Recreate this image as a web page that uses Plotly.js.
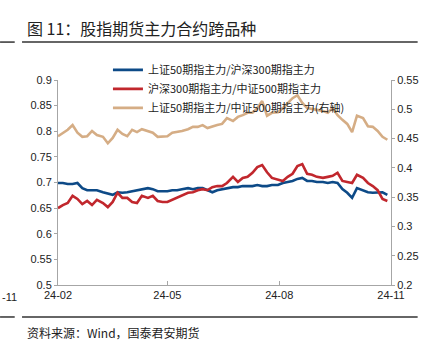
<!DOCTYPE html>
<html><head><meta charset="utf-8">
<script src="https://cdn.plot.ly/plotly-3.0.1.min.js"></script>
<style>html,body{margin:0;padding:0;background:#fff;}#c{width:423px;height:351px;}</style>
</head><body><div id="c"></div>
<script>
var dates = ['2024-02-01','2024-02-05','2024-02-09','2024-02-13','2024-02-17','2024-02-21','2024-02-25','2024-02-29',
'2024-03-04','2024-03-09','2024-03-13','2024-03-17','2024-03-21','2024-03-25','2024-03-29','2024-04-02','2024-04-06',
'2024-04-10','2024-04-15','2024-04-19','2024-04-23','2024-04-27','2024-05-01','2024-05-05','2024-05-09','2024-05-13',
'2024-05-18','2024-05-22','2024-05-26','2024-05-30','2024-06-03','2024-06-07','2024-06-11','2024-06-15','2024-06-19',
'2024-06-24','2024-06-28','2024-07-02','2024-07-06','2024-07-10','2024-07-14','2024-07-18','2024-07-22','2024-07-26',
'2024-07-31','2024-08-04','2024-08-08','2024-08-12','2024-08-16','2024-08-20','2024-08-24','2024-08-28','2024-09-01',
'2024-09-06','2024-09-10','2024-09-14','2024-09-18','2024-09-22','2024-09-26','2024-09-30','2024-10-04','2024-10-09',
'2024-10-13','2024-10-17','2024-10-21','2024-10-25','2024-10-29'];
var sz50_hs300 = [0.699,0.699,0.697,0.697,0.699,0.689,0.685,0.685,0.685,0.681,0.678,0.676,0.681,0.680,0.681,0.683,0.685,
0.687,0.689,0.687,0.683,0.683,0.683,0.685,0.685,0.687,0.689,0.687,0.689,0.689,0.685,0.681,0.685,0.687,0.689,
0.691,0.691,0.693,0.693,0.693,0.695,0.693,0.693,0.695,0.695,0.699,0.701,0.703,0.707,0.709,0.703,0.703,0.701,
0.701,0.699,0.701,0.699,0.687,0.680,0.670,0.689,0.685,0.681,0.680,0.680,0.681,0.676];
var hs300_zz500 = [0.650,0.656,0.660,0.674,0.668,0.658,0.664,0.656,0.666,0.660,0.652,0.662,0.680,0.670,0.670,0.662,0.660,
0.674,0.670,0.674,0.664,0.662,0.662,0.666,0.670,0.674,0.680,0.681,0.685,0.687,0.685,0.691,0.693,0.693,0.699,
0.711,0.701,0.709,0.711,0.719,0.730,0.734,0.720,0.709,0.705,0.703,0.711,0.717,0.732,0.736,0.717,0.715,0.711,
0.709,0.711,0.713,0.719,0.703,0.701,0.699,0.715,0.709,0.699,0.693,0.685,0.668,0.664];
var sz50_zz500 = [0.454,0.460,0.465,0.473,0.460,0.453,0.454,0.463,0.456,0.453,0.442,0.451,0.465,0.458,0.454,0.465,0.461,
0.466,0.463,0.460,0.453,0.453,0.454,0.460,0.461,0.463,0.466,0.470,0.470,0.473,0.468,0.471,0.473,0.475,0.485,
0.480,0.487,0.490,0.494,0.494,0.502,0.514,0.489,0.494,0.495,0.502,0.511,0.519,0.524,0.511,0.502,0.500,0.499,
0.497,0.494,0.502,0.490,0.482,0.475,0.461,0.489,0.485,0.471,0.470,0.463,0.453,0.448];
var names = ['上证50期指主力/沪深300期指主力','沪深300期指主力/中证500期指主力','上证50期指主力/中证500期指主力(右轴)'];
var tickDates = ['2024-02-01','2024-05-01','2024-08-01','2024-11-01'];
var tickText = ['24-02','24-05','24-08','24-11'];

var font = 'Liberation Sans, Noto Sans CJK SC, sans-serif';
var traces = [
 {x:dates, y:sz50_hs300, name:names[0], type:'scatter', mode:'lines', line:{color:'#0d4a87', width:2.6}},
 {x:dates, y:hs300_zz500, name:names[1], type:'scatter', mode:'lines', line:{color:'#c1272d', width:2.6}},
 {x:dates, y:sz50_zz500, name:names[2], type:'scatter', mode:'lines', yaxis:'y2', line:{color:'#d5ad85', width:2.6}}
];
var axLine = '#a6a6a6';
var layout = {
 width:423, height:351,
 margin:{l:58, r:32, t:80, b:66},
 paper_bgcolor:'#fff', plot_bgcolor:'rgba(0,0,0,0)',
 font:{family:font, size:11, color:'#222'},
 showlegend:true,
 legend:{x:0.15, y:1.12, xanchor:'left', yanchor:'top', bgcolor:'rgba(0,0,0,0)',
   font:{family:'Noto Sans CJK SC, sans-serif', size:11, color:'#222'}, tracegroupgap:2, itemwidth:30},
 xaxis:{type:'date', range:['2024-02-01','2024-11-01'], tickvals:tickDates, ticktext:tickText,
   showgrid:false, zeroline:false, showline:true, linecolor:axLine, linewidth:1,
   ticks:'inside', ticklen:4, tickcolor:axLine, tickfont:{size:11, color:'#222'}, mirror:false},
 yaxis:{range:[0.5,0.9], dtick:0.05, showgrid:false, zeroline:false, showline:true, linecolor:axLine,
   ticks:'outside', ticklen:3, tickcolor:axLine, tickfont:{size:11, color:'#222'}},
 yaxis2:{range:[0.2,0.55], dtick:0.05, overlaying:'y', side:'right', showgrid:false, zeroline:false,
   showline:true, linecolor:axLine, ticks:'outside', ticklen:3, tickcolor:axLine, tickfont:{size:11, color:'#222'}},
 shapes:[
  {type:'line', xref:'paper', yref:'paper', x0:-0.174, x1:-0.13, y0:1.185, y1:1.185, line:{color:'#333', width:1.5}},
  {type:'line', xref:'paper', yref:'paper', x0:-0.108, x1:1.08, y0:1.185, y1:1.185, line:{color:'#333', width:1.5}},
  {type:'line', xref:'paper', yref:'paper', x0:-0.174, x1:-0.13, y0:-0.156, y1:-0.156, line:{color:'#333', width:1.5}},
  {type:'line', xref:'paper', yref:'paper', x0:-0.108, x1:1.08, y0:-0.156, y1:-0.156, line:{color:'#333', width:1.5}}
 ],
 annotations:[
  {text:'图 11：股指期货主力合约跨品种', xref:'paper', yref:'paper', x:-0.1, y:1.255, xanchor:'left', yanchor:'middle',
   showarrow:false, font:{family:'Noto Sans CJK SC, sans-serif', size:16, color:'#222'}},
  {text:'资料来源：Wind，国泰君安期货', xref:'paper', yref:'paper', x:-0.1, y:-0.23, xanchor:'left', yanchor:'middle',
   showarrow:false, font:{family:'Noto Sans CJK SC, sans-serif', size:12, color:'#222'}},
  {text:'-11', xref:'paper', yref:'paper', x:-0.174, y:-0.06, xanchor:'left', yanchor:'middle',
   showarrow:false, font:{size:11, color:'#222'}}
 ]
};
Plotly.newPlot('c', traces, layout, {displayModeBar:false, staticPlot:true});
</script></body></html>
